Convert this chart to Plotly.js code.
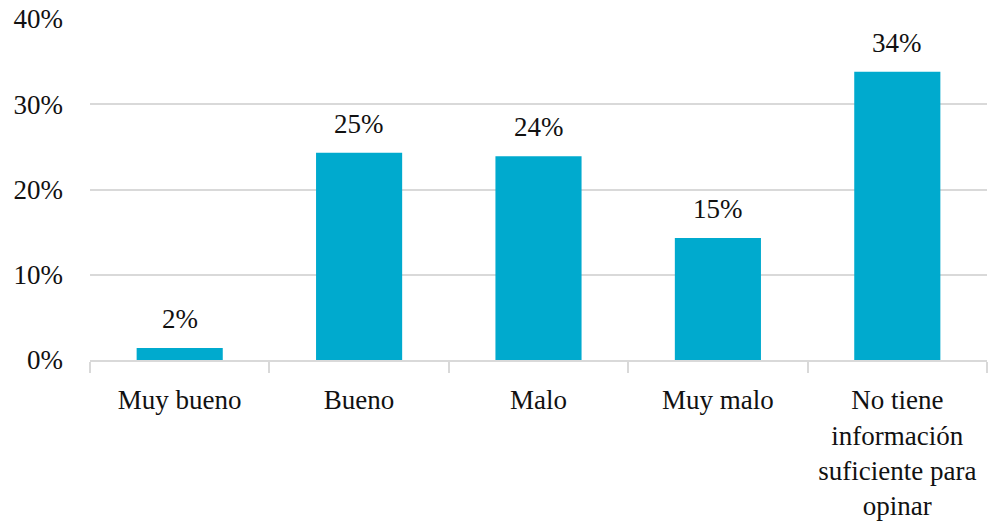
<!DOCTYPE html>
<html>
<head>
<meta charset="utf-8">
<script src="https://cdn.plot.ly/plotly-3.0.1.min.js"></script>
<style>html,body{margin:0;padding:0;background:#fff}#chart{width:988px;height:523px}</style>
</head>
<body>
<div id="chart"></div>
<script>
const categories = ["Muy bueno", "Bueno", "Malo", "Muy malo", "No tiene<br>información<br>suficiente para<br>opinar"];
const values = [1.4, 24.3, 23.9, 14.3, 33.8];
const labels = ["2%", "25%", "24%", "15%", "34%"];
const yTickVals = [0, 10, 20, 30, 40];
const yTickText = ["0%", "10%", "20%", "30%", "40%"];

const FONT = "'Liberation Serif', 'Times New Roman', serif";

const trace = {
  type: "bar",
  x: categories,
  y: values,
  marker: {color: "#00AACE"},
  width: 0.48,
  hoverinfo: "skip"
};

const annotations = categories.map((c, i) => ({
  x: c, y: values[i], text: labels[i], showarrow: false,
  xref: "x", yref: "y", yanchor: "bottom", yshift: 12,
  font: {family: FONT, size: 27, color: "#111"}
}));

const layout = {
  width: 988, height: 523,
  margin: {l: 90, r: 1, t: 19, b: 163},
  paper_bgcolor: "#fff", plot_bgcolor: "#fff",
  showlegend: false,
  font: {family: FONT, size: 27, color: "#111"},
  bargap: 0.52,
  xaxis: {
    type: "category",
    tickson: "boundaries",
    ticks: "outside", ticklen: 11, tickcolor: "#d9d9d9", tickwidth: 2,
    showline: true, linecolor: "#d9d9d9", linewidth: 2,
    showgrid: false,
    tickfont: {family: FONT, size: 27, color: "#111"},
    ticklabelstandoff: 15
  },
  yaxis: {
    range: [0, 40],
    tickvals: yTickVals, ticktext: yTickText,
    showgrid: true, gridcolor: "#d9d9d9", gridwidth: 2,
    zeroline: false, showline: false, ticks: "",
    tickfont: {family: FONT, size: 27, color: "#111"},
    ticklabelstandoff: 26
  },
  annotations: annotations
};

Plotly.newPlot("chart", [trace], layout, {displayModeBar: false, staticPlot: true});
</script>
</body>
</html>
